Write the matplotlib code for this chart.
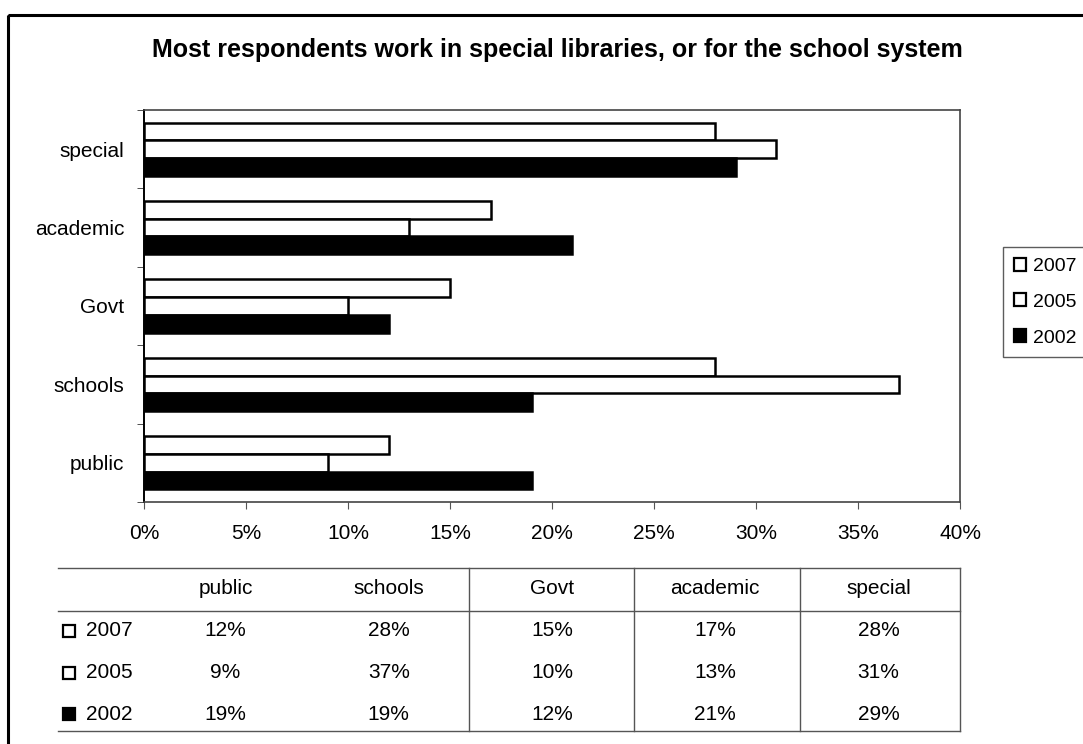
import numpy as np
import matplotlib
matplotlib.use("Agg")
import matplotlib.pyplot as plt
from matplotlib.patches import Patch, Rectangle

plt.rcParams['font.family'] = ['Liberation Sans', 'DejaVu Sans']

# data
categories = ['public', 'schools', 'Govt', 'academic', 'special']
years = ['2007', '2005', '2002']
v2007 = [0.12, 0.28, 0.15, 0.17, 0.28]
v2005 = [0.09, 0.37, 0.10, 0.13, 0.31]
v2002 = [0.19, 0.19, 0.12, 0.21, 0.29]
xticks = [0, 0.05, 0.10, 0.15, 0.20, 0.25, 0.30, 0.35, 0.40]

W, H = 1083, 744
fs = 15
fig = plt.figure(figsize=(W / 100, H / 100), dpi=100)


def px(x0, y0, x1, y1):
    # pixel box (top-left origin) -> figure fraction
    return [x0 / W, 1 - y1 / H, (x1 - x0) / W, (y1 - y0) / H]


# overlay for border, table lines etc.
ov = fig.add_axes([0, 0, 1, 1])
ov.set_xlim(0, W)
ov.set_ylim(H, 0)
ov.axis('off')
ov.add_patch(Rectangle((8, 15), W + 20, H + 20, fill=False, lw=2.2, ec='black'))

ax = fig.add_axes(px(144, 110, 960, 502))
y = np.arange(len(categories))
h = 0.227
series = [(v2007, 'white', h), (v2005, 'white', 0), (v2002, 'black', -h)]
for vals, fc, off in series:
    ax.barh(y + off, vals, height=h, color=fc, edgecolor='black', linewidth=1.8)

ax.set_xlim(0, 0.40)
ax.set_ylim(-0.5, len(categories) - 0.5)
ax.set_xticks(xticks)
ax.set_xticklabels([f"{int(round(t * 100))}%" for t in xticks], fontsize=fs)
ax.set_yticks(y)
ax.set_yticklabels(categories, fontsize=fs)
ax.set_yticks(np.arange(-0.5, len(categories)), minor=True)
ax.tick_params(axis='y', which='major', length=0, pad=14)
ax.tick_params(axis='y', which='minor', length=5, color='#333333', direction='out')
ax.tick_params(axis='x', length=5, color='#555555', pad=11)
for s in ['top', 'right', 'bottom']:
    ax.spines[s].set_color('#444444')
    ax.spines[s].set_linewidth(1.2)
ax.spines['left'].set_color('black')
ax.spines['left'].set_linewidth(1.4)

fig.text(557 / W, 1 - 50 / H, 'Most respondents work in special libraries, or for the school system',
         ha='center', va='center', fontsize=18, fontweight='bold')

# legend on the right, frame runs off the figure edge like the original
handles = [Patch(facecolor='white', edgecolor='black', lw=1.6),
           Patch(facecolor='white', edgecolor='black', lw=1.6),
           Patch(facecolor='black', edgecolor='black', lw=1.6)]
leg = fig.legend(handles, years, loc='upper left', bbox_to_anchor=(1003 / W, 1 - 247 / H),
                 fontsize=14, frameon=True, fancybox=False, handlelength=0.65, handleheight=0.65,
                 handletextpad=0.35, labelspacing=0.95, borderpad=0.55, borderaxespad=0)
leg.get_frame().set_edgecolor('#333333')
leg.get_frame().set_linewidth(1.0)

# data table below
col_w = (960 - 144) / len(categories)
col_c = [144 + col_w * (i + 0.5) for i in range(len(categories))]
row_y = [631, 673, 714]
line_c = '#555555'
for yy in [568, 611, 731]:
    ov.plot([58, 960], [yy, yy], color=line_c, lw=1.0)
for xx in [469, 634, 800, 960]:
    ov.plot([xx, xx], [568, 731], color=line_c, lw=1.0)
for c, name in zip(col_c, categories):
    ov.text(c, 589, name, ha='center', va='center', fontsize=fs)
for ry, yr, vals, fc in zip(row_y, years, [v2007, v2005, v2002], ['white', 'white', 'black']):
    ov.add_patch(Rectangle((63, ry - 6), 12, 12, fc=fc, ec='black', lw=1.6))
    ov.text(86, ry, yr, ha='left', va='center', fontsize=fs)
    for c, v in zip(col_c, vals):
        ov.text(c, ry, f"{int(round(v * 100))}%", ha='center', va='center', fontsize=fs)

fig.savefig('out.png', dpi=100)
